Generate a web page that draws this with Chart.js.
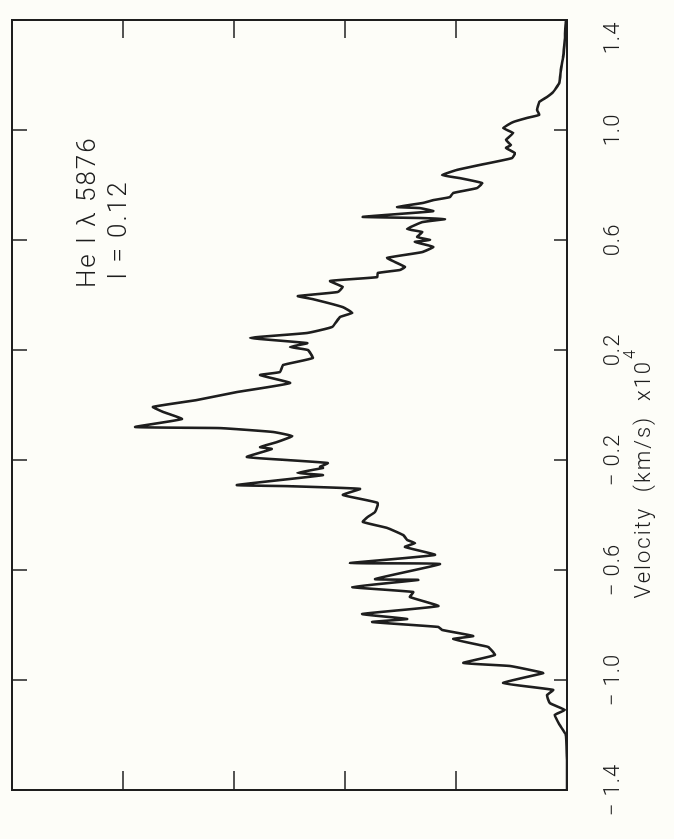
<!DOCTYPE html>
<html>
<head>
<meta charset="utf-8">
<title>He I 5876 profile</title>
<script src="https://cdn.jsdelivr.net/npm/chart.js@4.4.1/dist/chart.umd.min.js"></script>
<style>
    html, body { margin: 0; padding: 0; background: #fdfdf8; }
    body { width: 674px; height: 839px; overflow: hidden; position: relative; }
    /* the figure is printed sideways, so the whole chart gets a quarter turn */
    #plotHolder {
        position: absolute; left: 0; top: 0;
        width: 839px; height: 674px;
        transform-origin: 0 0;
        transform: translate(0, 839px) rotate(-90deg);
    }
</style>
</head>
<body>
<div id="plotHolder"><canvas id="profileChart" width="839" height="674"></canvas></div>
<script>
// Line profile: velocity in units of 10^4 km/s, relative intensity
const velocity = [
    -1.400, -1.291, -1.200, -1.164, -1.127, -1.109, -1.084, -1.055, -1.036, -1.011,
    -0.975, -0.971, -0.949, -0.938, -0.909, -0.880, -0.873, -0.851, -0.840, -0.818,
    -0.807, -0.789, -0.778, -0.760, -0.731, -0.698, -0.680, -0.662, -0.636, -0.633,
    -0.578, -0.575, -0.545, -0.516, -0.502, -0.491, -0.473, -0.447, -0.425, -0.407,
    -0.389, -0.356, -0.327, -0.305, -0.295, -0.291, -0.255, -0.247, -0.229, -0.225,
    -0.211, -0.200, -0.189, -0.160, -0.153, -0.135, -0.113, -0.098, -0.084, -0.080,
    -0.051, -0.025, -0.007, 0.018, 0.047, 0.080, 0.109, 0.120, 0.145, 0.171,
    0.200, 0.211, 0.225, 0.244, 0.262, 0.284, 0.320, 0.335, 0.356, 0.385,
    0.396, 0.411, 0.429, 0.451, 0.465, 0.480, 0.491, 0.502, 0.520, 0.535,
    0.556, 0.575, 0.593, 0.600, 0.611, 0.629, 0.640, 0.665, 0.676, 0.680,
    0.684, 0.695, 0.705, 0.716, 0.720, 0.735, 0.745, 0.756, 0.771, 0.789,
    0.807, 0.825, 0.836, 0.855, 0.873, 0.898, 0.916, 0.935, 0.945, 0.964,
    0.989, 1.007, 1.029, 1.044, 1.055, 1.073, 1.102, 1.120, 1.138, 1.171,
    1.218, 1.265, 1.327, 1.393, 1.400
];
const intensity = [
    0.000, 0.000, 0.002, 0.013, 0.022, 0.004, 0.031, 0.036, 0.025, 0.115,
    0.043, 0.049, 0.103, 0.187, 0.130, 0.142, 0.157, 0.205, 0.169, 0.225,
    0.232, 0.351, 0.288, 0.369, 0.232, 0.283, 0.277, 0.387, 0.268, 0.346,
    0.229, 0.391, 0.238, 0.292, 0.274, 0.288, 0.295, 0.324, 0.368, 0.359,
    0.346, 0.341, 0.404, 0.373, 0.505, 0.595, 0.440, 0.486, 0.440, 0.445,
    0.431, 0.505, 0.577, 0.532, 0.553, 0.523, 0.495, 0.530, 0.625, 0.778,
    0.694, 0.728, 0.746, 0.667, 0.595, 0.499, 0.553, 0.517, 0.512, 0.458,
    0.467, 0.499, 0.468, 0.571, 0.468, 0.423, 0.409, 0.387, 0.404, 0.458,
    0.485, 0.413, 0.404, 0.427, 0.342, 0.341, 0.301, 0.292, 0.310, 0.324,
    0.261, 0.241, 0.274, 0.247, 0.270, 0.261, 0.288, 0.261, 0.220, 0.265,
    0.368, 0.301, 0.241, 0.265, 0.306, 0.259, 0.241, 0.211, 0.205, 0.162,
    0.153, 0.193, 0.225, 0.198, 0.157, 0.099, 0.094, 0.110, 0.101, 0.110,
    0.097, 0.115, 0.097, 0.072, 0.050, 0.054, 0.050, 0.036, 0.025, 0.014,
    0.011, 0.007, 0.004, 0.002, 0.000
];

// Axis ticks and their printed labels
const velocityTicks = [-1.4, -1.0, -0.6, -0.2, 0.2, 0.6, 1.0, 1.4];
const velocityTickLabels = ["\u2212 1.4", "\u2212 1.0", "\u2212 0.6", "\u2212 0.2", "0.2", "0.6", "1.0", "1.4"];
const intensityTicks = [0.2, 0.4, 0.6, 0.8];

// Texts on the figure
const axisTitle = "Velocity  (km/s)  x10";
const axisTitleExponent = "4";
const noteLines = ["He I \u03bb 5876", "I = 0.12"];

const inkColor = "#1e1e1e";
const fontFamily = "Roboto, 'DejaVu Sans', sans-serif";

// Draws the frame, inward tick marks, tick labels and texts through the scales
const framePlugin = {
    id: "frame",
    afterDatasetsDraw(chart) {
        const ctx = chart.ctx;
        const area = chart.chartArea;
        const xs = chart.scales.x;
        const ys = chart.scales.y;

        ctx.save();
        ctx.strokeStyle = inkColor;
        ctx.lineWidth = 2;
        ctx.strokeRect(area.left, area.top, area.right - area.left, area.bottom - area.top);

        // tick marks pointing into the plot
        ctx.lineWidth = 1.5;
        ctx.beginPath();
        velocityTicks.forEach(v => {
            const px = xs.getPixelForValue(v);
            ctx.moveTo(px, area.bottom);
            ctx.lineTo(px, area.bottom - 13);
            ctx.moveTo(px, area.top);
            ctx.lineTo(px, area.top + 15);
        });
        intensityTicks.forEach(i => {
            const py = ys.getPixelForValue(i);
            ctx.moveTo(area.left, py);
            ctx.lineTo(area.left + 19, py);
            ctx.moveTo(area.right, py);
            ctx.lineTo(area.right - 18, py);
        });
        ctx.stroke();

        // velocity tick labels
        ctx.fillStyle = inkColor;
        ctx.font = "300 22px " + fontFamily;
        ctx.letterSpacing = "1px";
        ctx.textAlign = "center";
        ctx.textBaseline = "middle";
        velocityTicks.forEach((v, k) => {
            let px = xs.getPixelForValue(v);
            if (k === velocityTicks.length - 1) px -= 18; // last label sits a bit inside
            ctx.fillText(velocityTickLabels[k], px, area.bottom + 46);
        });

        // axis title with a raised exponent
        ctx.font = "300 22px " + fontFamily;
        ctx.letterSpacing = "2px";
        const mainWidth = ctx.measureText(axisTitle).width;
        ctx.font = "300 16px " + fontFamily;
        const expWidth = ctx.measureText(axisTitleExponent).width;
        const titleLeft = xs.getPixelForValue(-0.25) - (mainWidth + expWidth) / 2;
        const titleY = area.bottom + 77;
        ctx.textAlign = "left";
        ctx.font = "300 22px " + fontFamily;
        ctx.fillText(axisTitle, titleLeft, titleY);
        ctx.font = "300 16px " + fontFamily;
        ctx.fillText(axisTitleExponent, titleLeft + mainWidth + 1, titleY - 13);

        // line identification
        ctx.font = "300 26px " + fontFamily;
        ctx.letterSpacing = "2px";
        ctx.fillText(noteLines[0], xs.getPixelForValue(0.425), ys.getPixelForValue(0.862));
        ctx.fillText(noteLines[1], xs.getPixelForValue(0.455), ys.getPixelForValue(0.806));
        ctx.restore();
    }
};

function createProfileChart(canvasId) {
    const ctx = document.getElementById(canvasId).getContext("2d");
    return new Chart(ctx, {
        type: "scatter",
        data: {
            datasets: [{
                label: "He I 5876",
                data: velocity.map((v, k) => ({ x: v, y: intensity[k] })),
                showLine: true,
                borderColor: inkColor,
                borderWidth: 2.6,
                borderJoinStyle: "round",
                pointRadius: 0,
                tension: 0.12,
                fill: false
            }]
        },
        options: {
            responsive: false,
            animation: false,
            layout: {
                padding: { left: 49, right: 20, top: 12, bottom: 107 }
            },
            plugins: {
                legend: { display: false },
                tooltip: { enabled: false }
            },
            scales: {
                x: { type: "linear", min: -1.4, max: 1.4, display: false },
                y: { type: "linear", min: 0, max: 1, display: false }
            }
        },
        plugins: [framePlugin]
    });
}

createProfileChart("profileChart");
</script>
</body>
</html>
